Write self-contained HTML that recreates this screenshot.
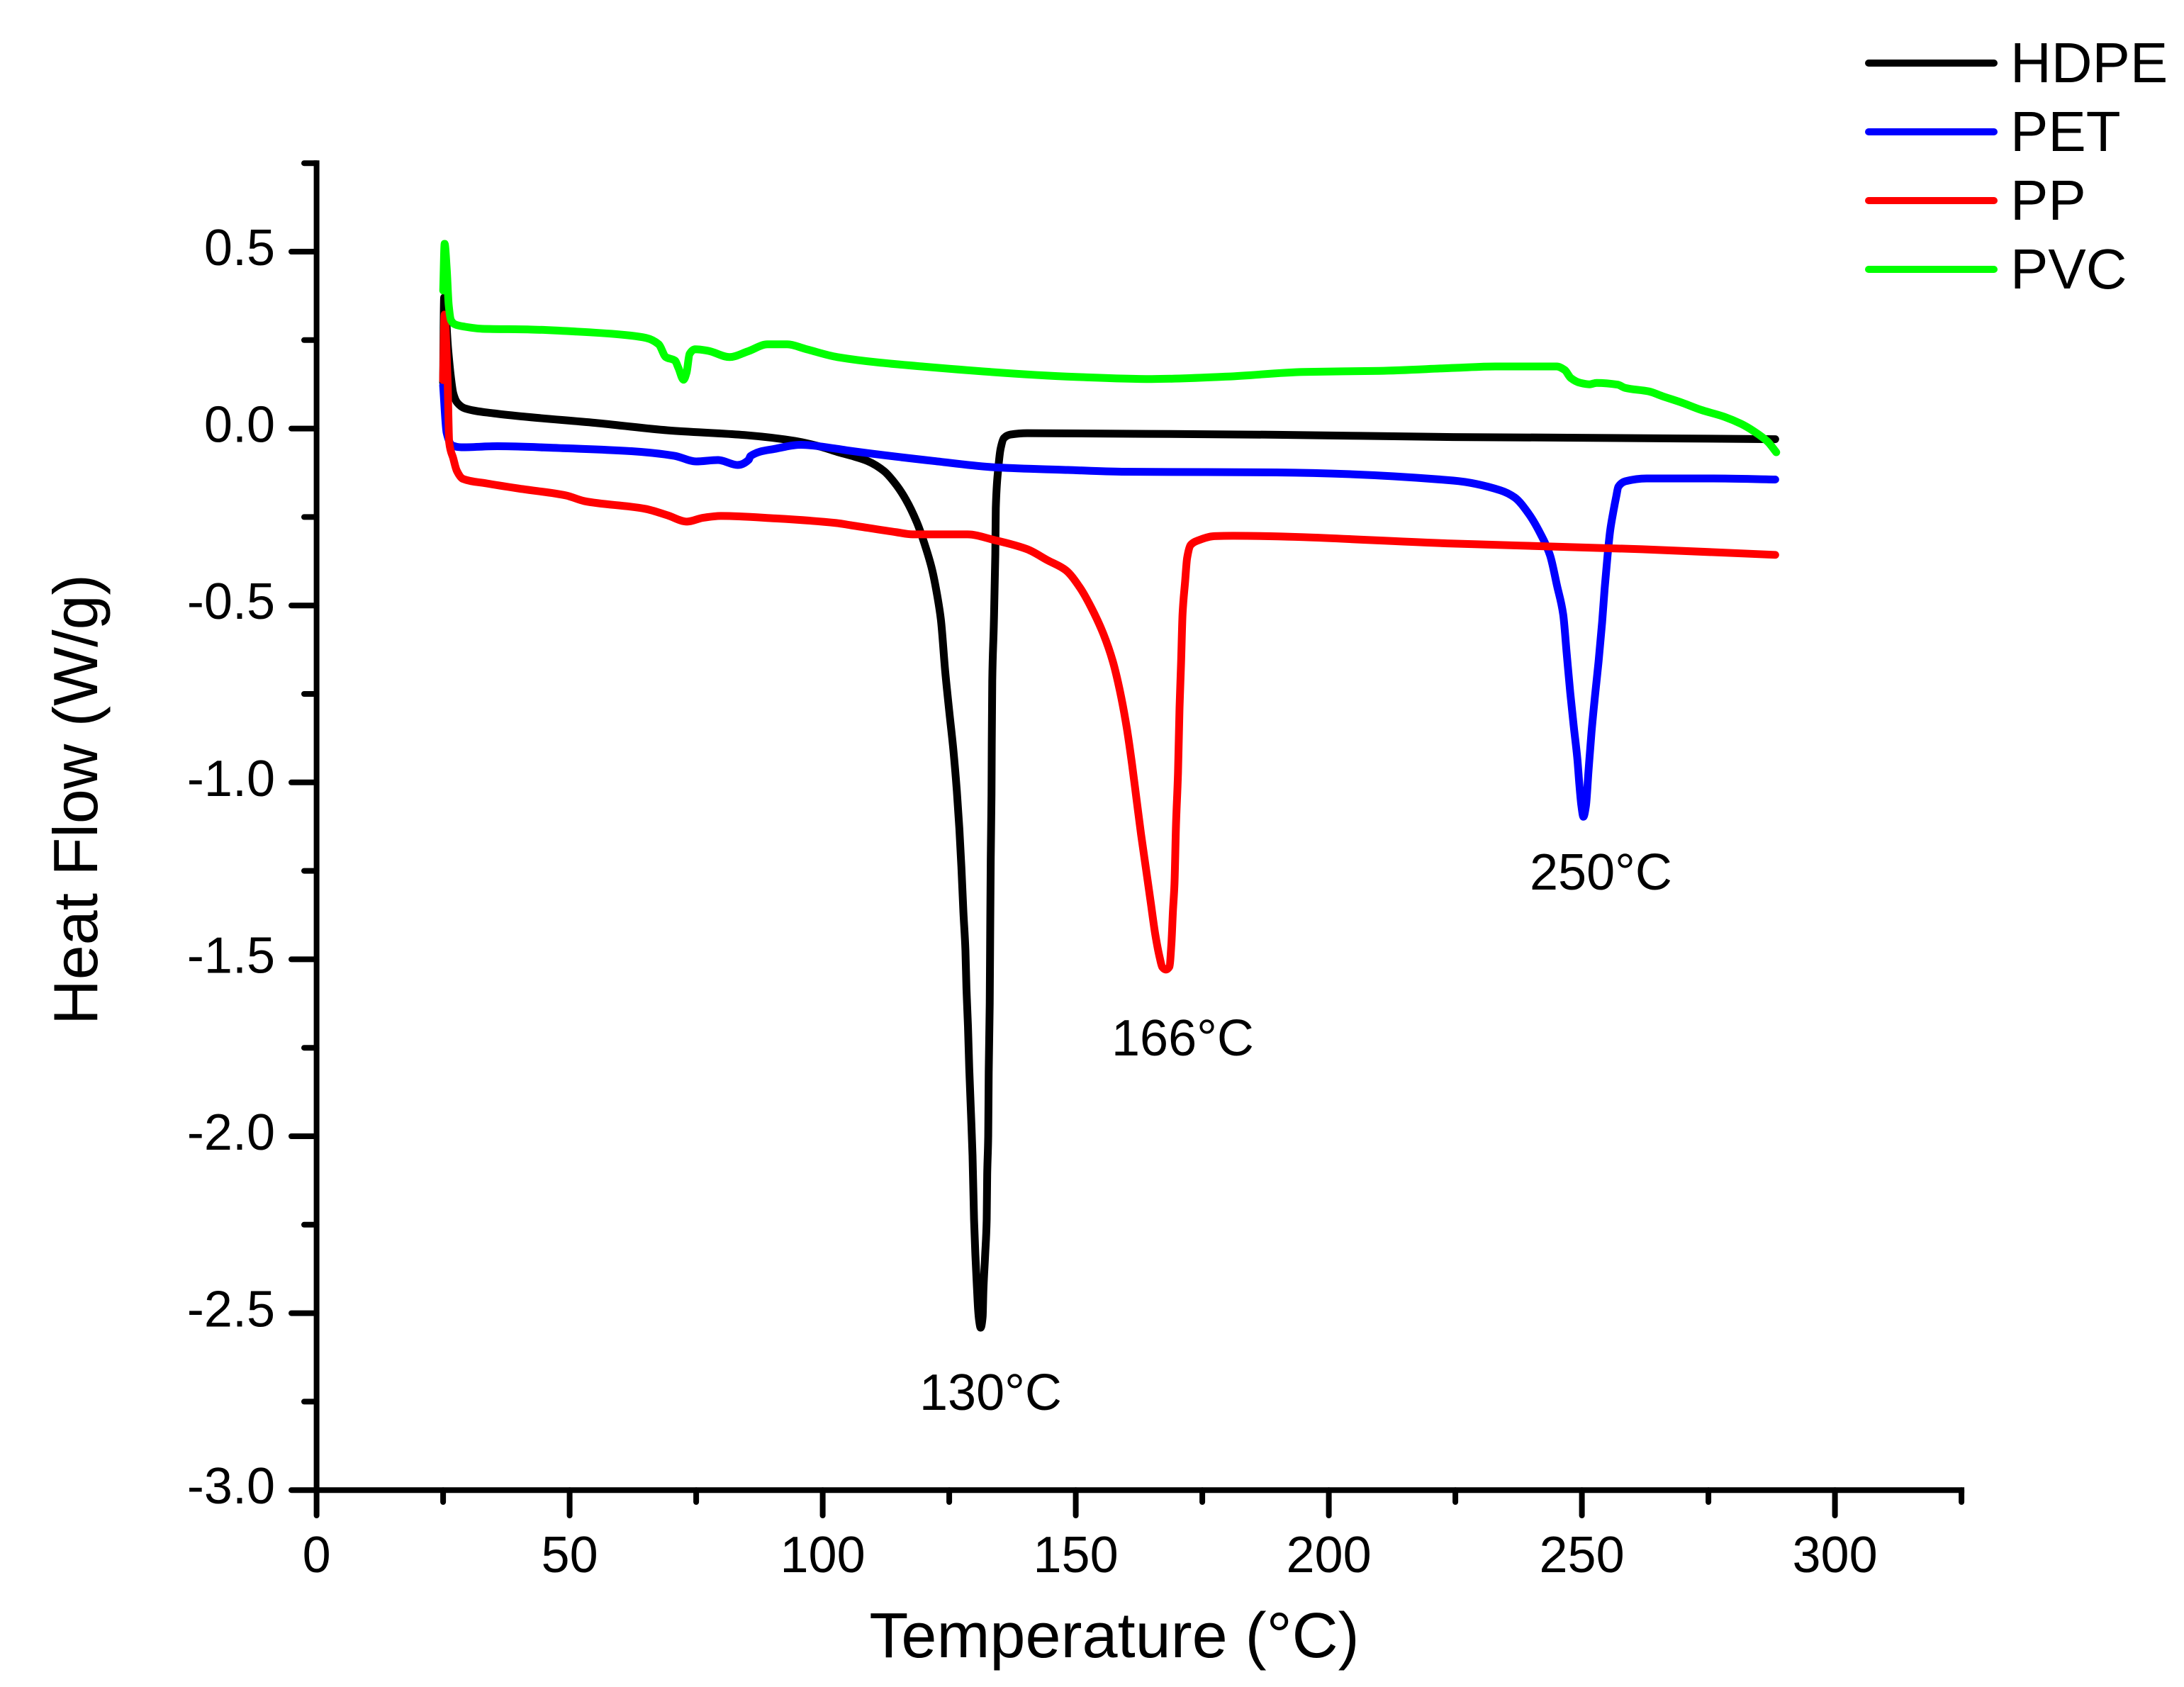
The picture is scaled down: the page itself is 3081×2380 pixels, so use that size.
<!DOCTYPE html>
<html lang="en">
<head>
<meta charset="utf-8">
<title>Heat Flow vs Temperature DSC Chart</title>
<style>
  html, body { margin: 0; padding: 0; background: #ffffff; }
  svg { display: block; }
  text { font-family: "Liberation Sans", Arial, sans-serif; fill: #000000; }
</style>
</head>
<body>
<svg id="chart" xmlns="http://www.w3.org/2000/svg" width="3081" height="2380" viewBox="0 0 3081 2380">
  <rect x="0" y="0" width="3081" height="2380" fill="#ffffff"/>
  <g id="ticks"></g>
  <g id="axes"></g>
  <g id="tick-labels" font-size="72"></g>
  <g id="series"></g>

  <text x="1572" y="2338" font-size="90" text-anchor="middle">Temperature (°C)</text>
  <text x="0" y="0" font-size="88" text-anchor="middle" transform="translate(137 1128) rotate(-90)">Heat Flow (W/g)</text>

  <text x="1297" y="1989" font-size="72">130°C</text>
  <text x="1568" y="1489" font-size="72">166°C</text>
  <text x="2158" y="1255" font-size="72">250°C</text>

  <g>
    <line x1="2636" y1="89" x2="2813" y2="89" stroke="#000000" stroke-width="10" stroke-linecap="round"/>
    <text x="2836" y="116" font-size="80">HDPE</text>
    <line x1="2636" y1="186" x2="2813" y2="186" stroke="#0000ff" stroke-width="10" stroke-linecap="round"/>
    <text x="2836" y="213" font-size="80">PET</text>
    <line x1="2636" y1="283" x2="2813" y2="283" stroke="#ff0000" stroke-width="10" stroke-linecap="round"/>
    <text x="2836" y="310" font-size="80">PP</text>
    <line x1="2636" y1="380" x2="2813" y2="380" stroke="#00ff00" stroke-width="10" stroke-linecap="round"/>
    <text x="2836" y="407" font-size="80">PVC</text>
  </g>
</svg>

<script>
// Tick data
const xMajorTicks = [0, 50, 100, 150, 200, 250, 300];
const xMinorTicks = [25, 75, 125, 175, 225, 275, 325];
const yMajorTicks = [0.5, 0, -0.5, -1, -1.5, -2, -2.5, -3];
const yMinorTicks = [0.75, 0.25, -0.25, -0.75, -1.25, -1.75, -2.25, -2.75];
const xTickLabels = ["0", "50", "100", "150", "200", "250", "300"];
const yTickLabels = ["0.5", "0.0", "-0.5", "-1.0", "-1.5", "-2.0", "-2.5", "-3.0"];

// HDPE
const hdpeTemps = [25, 25.2, 26, 26.5, 27, 27.8, 29.3, 35, 40.8, 55.1, 69.4, 85.1, 94.5, 100, 102.9, 105.7, 108.9, 112.1, 114.2, 116.4, 118.6, 120.1, 121.6, 122.7, 123.35, 124.2, 125, 125.8, 126.5, 127, 127.4, 127.8, 128.2, 128.4, 128.7, 128.95, 129.3, 129.6, 129.9, 130.16, 130.5, 130.7, 130.9, 131.2, 131.6, 131.75, 132.1, 132.4, 132.5, 132.7, 132.8, 133, 133.1, 133.2, 133.35, 133.4, 133.5, 133.8, 134.1, 134.2, 134.7, 135.15, 135.8, 137.1, 140.4, 164.5, 189.6, 224.6, 249.8, 288.2];
const hdpeFlows = [0.13, 0.37, 0.223, 0.15, 0.1, 0.073, 0.057, 0.043, 0.034, 0.016, -0.005, -0.019, -0.035, -0.053, -0.066, -0.077, -0.092, -0.12, -0.153, -0.2, -0.265, -0.325, -0.398, -0.478, -0.54, -0.686, -0.799, -0.906, -1.024, -1.131, -1.239, -1.367, -1.475, -1.582, -1.689, -1.807, -1.936, -2.054, -2.235, -2.334, -2.435, -2.489, -2.52, -2.541, -2.51, -2.435, -2.334, -2.235, -2.108, -2, -1.818, -1.625, -1.41, -1.217, -1.035, -0.895, -0.712, -0.558, -0.357, -0.225, -0.111, -0.057, -0.027, -0.017, -0.013, -0.015, -0.0175, -0.024, -0.026, -0.03];

// PET
const petTemps = [25, 25.7, 26.8, 28.6, 35.7, 47.9, 62.2, 70.7, 75, 79.3, 83.2, 85.4, 85.7, 90.7, 95.7, 102.7, 105.5, 121.6, 134.5, 148.4, 159.1, 189.6, 224.6, 233.9, 236.7, 239.5, 241.8, 243.7, 245.1, 246.3, 247, 247.7, 248.4, 249.1, 249.5, 249.9, 250.3, 250.8, 251.3, 251.9, 252.6, 253.3, 254, 254.5, 255.1, 255.6, 256.3, 256.8, 257.2, 258.6, 262.8, 275.9, 288.2];
const petFlows = [0.122, -0.012, -0.048, -0.053, -0.05, -0.055, -0.064, -0.077, -0.093, -0.089, -0.103, -0.088, -0.078, -0.057, -0.046, -0.057, -0.063, -0.091, -0.11, -0.117, -0.122, -0.124, -0.147, -0.1745, -0.1945, -0.241, -0.297, -0.358, -0.445, -0.525, -0.636, -0.747, -0.843, -0.933, -1.006, -1.066, -1.097, -1.066, -0.969, -0.858, -0.754, -0.658, -0.547, -0.451, -0.354, -0.287, -0.228, -0.191, -0.1645, -0.149, -0.141, -0.141, -0.144];

// PP
const ppTemps = [25, 25.3, 25.7, 25.9, 26.2, 27, 27.7, 28.9, 33.6, 40.7, 49.3, 52.9, 65, 69.3, 73.2, 76.4, 80, 90.7, 102.7, 105.5, 114.6, 117.8, 128.6, 133.9, 140.4, 144.4, 148, 150.8, 153.1, 155.5, 157.3, 158.7, 160.1, 161.1, 162, 162.9, 163.9, 164.8, 165.7, 166.6, 167.1, 167.8, 168.5, 168.9, 169.2, 169.5, 169.8, 170.2, 170.5, 170.8, 171.1, 171.6, 172, 172.7, 174.2, 177.4, 181.1, 224.6, 243.2, 261.9, 288.2];
const ppFlows = [0.137, 0.322, 0.21, 0.13, -0.039, -0.084, -0.119, -0.142, -0.155, -0.171, -0.189, -0.205, -0.227, -0.245, -0.263, -0.252, -0.247, -0.254, -0.267, -0.273, -0.293, -0.299, -0.299, -0.315, -0.341, -0.372, -0.4, -0.449, -0.507, -0.582, -0.657, -0.74, -0.848, -0.947, -1.047, -1.147, -1.247, -1.338, -1.429, -1.496, -1.522, -1.529, -1.521, -1.454, -1.363, -1.288, -1.122, -0.973, -0.79, -0.665, -0.524, -0.433, -0.366, -0.329, -0.316, -0.304, -0.303, -0.325, -0.333, -0.341, -0.357];

// PVC
const pvcTemps = [25.02, 25.3, 25.72, 26.1, 26.56, 27.4, 29.2, 32.7, 42.1, 51.4, 59.8, 65.1, 67.6, 69, 70.8, 71.5, 72.5, 73.1, 73.7, 74.8, 77.3, 81.6, 85.2, 89.1, 93, 96.6, 102.9, 120, 150, 165, 180, 195, 210, 224.9, 232.9, 245, 246.6, 247.8, 249.7, 251.5, 252.9, 257.1, 258.5, 263.2, 266, 269.8, 273.5, 278.2, 281.5, 283.9, 286.7, 288.4];
const pvcFlows = [0.39, 0.522, 0.45, 0.35, 0.306, 0.294, 0.288, 0.282, 0.28, 0.274, 0.266, 0.256, 0.238, 0.202, 0.192, 0.171, 0.138, 0.158, 0.211, 0.224, 0.22, 0.202, 0.218, 0.238, 0.238, 0.225, 0.202, 0.175, 0.146, 0.14, 0.147, 0.16, 0.163, 0.1715, 0.1755, 0.1755, 0.1655, 0.143, 0.129, 0.125, 0.129, 0.124, 0.115, 0.105, 0.091, 0.073, 0.053, 0.033, 0.013, -0.007, -0.037, -0.067];

const SVG_NS = "http://www.w3.org/2000/svg";
const xScale = function (t) { return 446.6 + 7.14 * t; };
const yScale = function (v) { return 604.6 - 499.2 * v; };

function makeLine(x1, y1, x2, y2, width, cap) {
  const el = document.createElementNS(SVG_NS, "line");
  el.setAttribute("x1", x1);
  el.setAttribute("y1", y1);
  el.setAttribute("x2", x2);
  el.setAttribute("y2", y2);
  el.setAttribute("stroke", "#000000");
  el.setAttribute("stroke-width", width);
  el.setAttribute("stroke-linecap", cap);
  return el;
}

const ticksGroup = document.getElementById("ticks");
const axesGroup = document.getElementById("axes");
const labelsGroup = document.getElementById("tick-labels");
const seriesGroup = document.getElementById("series");

xMajorTicks.forEach(function (t, i) {
  const tick = makeLine(xScale(t), yScale(-3), xScale(t), 2138, 8, "round");
  
  
  ticksGroup.appendChild(tick);
  const label = document.createElementNS(SVG_NS, "text");
  label.setAttribute("x", xScale(t));
  label.setAttribute("y", 2218);
  label.setAttribute("text-anchor", "middle");
  label.textContent = xTickLabels[i];
  
  
  labelsGroup.appendChild(label);
});

xMinorTicks.forEach(function (t) {
  const tick = makeLine(xScale(t), yScale(-3), xScale(t), 2119, 8, "round");
  
  
  ticksGroup.appendChild(tick);
});

yMajorTicks.forEach(function (v, i) {
  const tick = makeLine(411, yScale(v), xScale(0), yScale(v), 8, "round");
  
  
  ticksGroup.appendChild(tick);
  const label = document.createElementNS(SVG_NS, "text");
  label.setAttribute("x", 388);
  label.setAttribute("y", yScale(v) + 19);
  label.setAttribute("text-anchor", "end");
  label.textContent = yTickLabels[i];
  
  
  labelsGroup.appendChild(label);
});

yMinorTicks.forEach(function (v) {
  const tick = makeLine(429, yScale(v), xScale(0), yScale(v), 8, "round");
  
  
  ticksGroup.appendChild(tick);
});

const yAxisLine = makeLine(xScale(0), yScale(0.75) - 4, xScale(0), yScale(-3) + 4, 8, "butt");


axesGroup.appendChild(yAxisLine);

const xAxisLine = makeLine(xScale(0), yScale(-3), xScale(325) + 4, yScale(-3), 8, "butt");


axesGroup.appendChild(xAxisLine);

// Monotone cubic path through the scaled points, so curves stay smooth without overshoot.
function monotonePath(xs, ys) {
  const n = xs.length;
  const secants = [];
  for (let i = 0; i < n - 1; i++) {
    secants.push((ys[i + 1] - ys[i]) / (xs[i + 1] - xs[i]));
  }
  const slopes = [secants[0]];
  for (let i = 1; i < n - 1; i++) {
    const a = secants[i - 1];
    const b = secants[i];
    if (a * b <= 0) {
      slopes.push(0);
    } else {
      const h0 = xs[i] - xs[i - 1];
      const h1 = xs[i + 1] - xs[i];
      const w1 = 2 * h1 + h0;
      const w2 = h1 + 2 * h0;
      slopes.push((w1 + w2) / (w1 / a + w2 / b));
    }
  }
  slopes.push(secants[n - 2]);
  let d = "M" + xs[0].toFixed(1) + "," + ys[0].toFixed(1);
  for (let i = 0; i < n - 1; i++) {
    const h = (xs[i + 1] - xs[i]) / 3;
    d += "C" + (xs[i] + h).toFixed(2) + "," + (ys[i] + slopes[i] * h).toFixed(2) + " " +
         (xs[i + 1] - h).toFixed(2) + "," + (ys[i + 1] - slopes[i + 1] * h).toFixed(2) + " " +
         xs[i + 1].toFixed(2) + "," + ys[i + 1].toFixed(2);
  }
  return d;
}

function drawSeries(temps, flows, color) {
  const el = document.createElementNS(SVG_NS, "path");
  el.setAttribute("d", monotonePath(temps.map(xScale), flows.map(yScale)));
  el.setAttribute("fill", "none");
  el.setAttribute("stroke", color);
  el.setAttribute("stroke-width", "11");
  el.setAttribute("stroke-linejoin", "round");
  el.setAttribute("stroke-linecap", "round");
  return el;
}

const hdpeLine = drawSeries(hdpeTemps, hdpeFlows, "#000000");


seriesGroup.appendChild(hdpeLine);

const petLine = drawSeries(petTemps, petFlows, "#0000ff");


seriesGroup.appendChild(petLine);

const ppLine = drawSeries(ppTemps, ppFlows, "#ff0000");


seriesGroup.appendChild(ppLine);

const pvcLine = drawSeries(pvcTemps, pvcFlows, "#00ff00");


seriesGroup.appendChild(pvcLine);
</script>
</body>
</html>
